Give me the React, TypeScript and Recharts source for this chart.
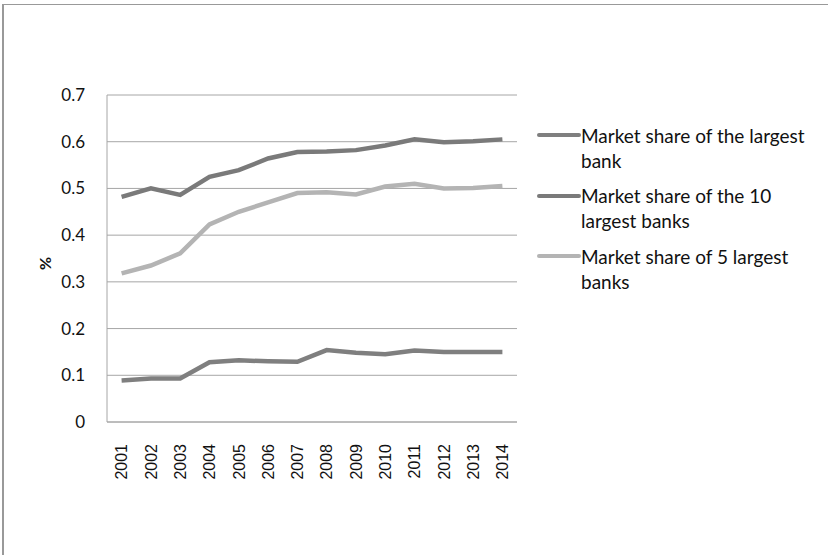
import { LineChart, Line, XAxis, YAxis, CartesianGrid, Legend } from 'recharts';

const years = ['2001', '2002', '2003', '2004', '2005', '2006', '2007', '2008', '2009', '2010', '2011', '2012', '2013', '2014'];

const largestBank = [0.089, 0.093, 0.093, 0.128, 0.132, 0.130, 0.129, 0.154, 0.148, 0.145, 0.153, 0.150, 0.150, 0.150];
const tenLargest = [0.482, 0.500, 0.486, 0.525, 0.539, 0.564, 0.578, 0.579, 0.582, 0.592, 0.605, 0.599, 0.601, 0.605];
const fiveLargest = [0.318, 0.335, 0.361, 0.423, 0.450, 0.470, 0.490, 0.492, 0.487, 0.504, 0.510, 0.500, 0.501, 0.505];

const seriesNames = [
  'Market share of the largest bank',
  'Market share of the 10 largest banks',
  'Market share of 5 largest banks',
];

const yTicks = [0, 0.1, 0.2, 0.3, 0.4, 0.5, 0.6, 0.7];

const data = years.map((year, i) => ({
  year,
  largest: largestBank[i],
  ten: tenLargest[i],
  five: fiveLargest[i],
}));

const XTick = (props: any) => {
  const { x, y, payload } = props;
  return (
    <text
      x={x}
      y={y + 14}
      transform={`rotate(-90, ${x}, ${y + 14})`}
      textAnchor="end"
      dy="0.36em"
      fontFamily="'Liberation Sans', Arial, sans-serif"
      fontSize={16}
      fill="#111"
    >
      {payload.value}
    </text>
  );
};

// keep the legend in series order (recharts sorts by name otherwise)
const renderLegend = (props: any) => {
  const items = [...props.payload].sort(
    (a: any, b: any) => seriesNames.indexOf(a.value) - seriesNames.indexOf(b.value)
  );
  return (
    <div style={{ fontFamily: 'Lato, sans-serif', fontSize: 19, color: '#111' }}>
      {items.map((entry: any) => (
        <div key={entry.value} style={{ display: 'flex', alignItems: 'flex-start', marginBottom: 10.5 }}>
          <span
            style={{ width: 44, height: 4, background: entry.color, marginTop: 10.5, flex: 'none', borderRadius: 2 }}
          />
          <span style={{ lineHeight: '25px', width: 232 }}>{entry.value}</span>
        </div>
      ))}
    </div>
  );
};

export default function App() {
  return (
    <div style={{ position: 'absolute', left: 0, top: 0, width: 828, height: 555, overflow: 'hidden', background: '#fff' }}>
      {/* outer frame, right and bottom edges fall outside the picture */}
      <div
        style={{
          position: 'absolute',
          left: 2,
          top: 4,
          width: 860,
          height: 580,
          border: '1px solid #999',
          borderLeftWidth: 2,
        }}
      />
      <div style={{ position: 'absolute', left: 0, top: 0 }}>
        <LineChart width={828} height={555} data={data} margin={{ top: 95, right: 311, bottom: 73, left: 0 }}>
          <CartesianGrid vertical={false} stroke="#a6a6a6" strokeWidth={1} />
          <XAxis
            dataKey="year"
            height={60}
            padding={{ left: 14.6, right: 14.6 }}
            tickLine={false}
            axisLine={{ stroke: '#a6a6a6' }}
            tick={<XTick />}
            interval={0}
          />
          <YAxis
            width={107}
            domain={[0, 0.7]}
            ticks={yTicks}
            tickLine={false}
            tickSize={0}
            tickMargin={22}
            axisLine={{ stroke: '#a6a6a6' }}
            tick={{ fontFamily: 'Lato, sans-serif', fontSize: 17, fill: '#111' }}
            label={{
              content: ({ viewBox }: any) => (
                <text
                  x={viewBox.x + 45}
                  y={viewBox.y + viewBox.height / 2 + 5}
                  transform={`rotate(-90, ${viewBox.x + 45}, ${viewBox.y + viewBox.height / 2 + 5})`}
                  textAnchor="middle"
                  dy="0.35em"
                  fontFamily="Lato, sans-serif"
                  fontWeight="bold"
                  fontSize={16}
                  fill="#111"
                >
                  %
                </text>
              ),
            }}
          />
          <Legend
            layout="vertical"
            align="center"
            verticalAlign="middle"
            content={renderLegend}
            wrapperStyle={{ left: 537, top: 122.5, width: 290, height: 'auto' }}
          />
          <Line
            type="linear"
            dataKey="largest"
            name={seriesNames[0]}
            stroke="#7f7f7f"
            strokeWidth={4.5}
            dot={false}
            activeDot={false}
            isAnimationActive={false}
          />
          <Line
            type="linear"
            dataKey="ten"
            name={seriesNames[1]}
            stroke="#7a7a7a"
            strokeWidth={4.5}
            dot={false}
            activeDot={false}
            isAnimationActive={false}
          />
          <Line
            type="linear"
            dataKey="five"
            name={seriesNames[2]}
            stroke="#b4b4b4"
            strokeWidth={4.5}
            dot={false}
            activeDot={false}
            isAnimationActive={false}
          />
        </LineChart>
      </div>
    </div>
  );
}
